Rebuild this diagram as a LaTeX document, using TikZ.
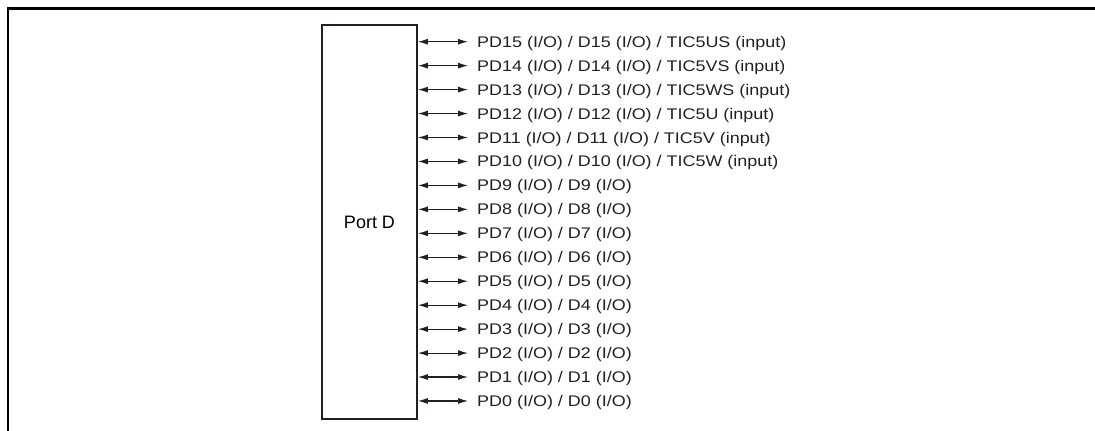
\documentclass[tikz,border=0pt]{standalone}
\usepackage{fontspec}
\setmainfont{Liberation Sans}
\usetikzlibrary{arrows.meta}
\definecolor{boxline}{HTML}{231F20}
\begin{document}
\begin{tikzpicture}[x=1pt,y=-1pt,
  frameline/.style={line width=2.2pt,black},
  portbox/.style={draw=boxline,line width=1.8pt,minimum width=95pt,minimum height=394pt,inner sep=0pt,
    font=\fontsize{18}{20}\selectfont},
  pinarrow/.style={line width=1.1pt,boxline,{Latex[length=10pt,width=6pt]}-{Latex[length=10pt,width=6pt]}},
  pinlabel/.style={anchor=west,inner xsep=0pt,inner ysep=0pt,text height=11pt,text depth=0pt,
    font=\fontsize{15.4}{17}\selectfont,xscale=1.165,transform shape,text=boxline}]
\useasboundingbox (0,0) rectangle (1095,431);
\draw[frameline] (8,431) -- (8,8.5) -- (1095,8.5);
\node[portbox] (port) at (369.5,222) {Port D};
\foreach \i/\t in {15/{PD15 (I/O) / D15 (I/O) / TIC5US (input)},
                   14/{PD14 (I/O) / D14 (I/O) / TIC5VS (input)},
                   13/{PD13 (I/O) / D13 (I/O) / TIC5WS (input)},
                   12/{PD12 (I/O) / D12 (I/O) / TIC5U (input)},
                   11/{PD11 (I/O) / D11 (I/O) / TIC5V (input)},
                   10/{PD10 (I/O) / D10 (I/O) / TIC5W (input)},
                   9/{PD9 (I/O) / D9 (I/O)},
                   8/{PD8 (I/O) / D8 (I/O)},
                   7/{PD7 (I/O) / D7 (I/O)},
                   6/{PD6 (I/O) / D6 (I/O)},
                   5/{PD5 (I/O) / D5 (I/O)},
                   4/{PD4 (I/O) / D4 (I/O)},
                   3/{PD3 (I/O) / D3 (I/O)},
                   2/{PD2 (I/O) / D2 (I/O)},
                   1/{PD1 (I/O) / D1 (I/O)},
                   0/{PD0 (I/O) / D0 (I/O)}} {
  \pgfmathsetmacro{\yy}{41.7+23.95*(15-\i)}
  \node[pinlabel] (l\i) at (477,\yy) {\t};
  \coordinate (e\i) at (468,\yy);
  \draw[pinarrow] (port.east |- e\i) -- (e\i);
}
\end{tikzpicture}
\end{document}
